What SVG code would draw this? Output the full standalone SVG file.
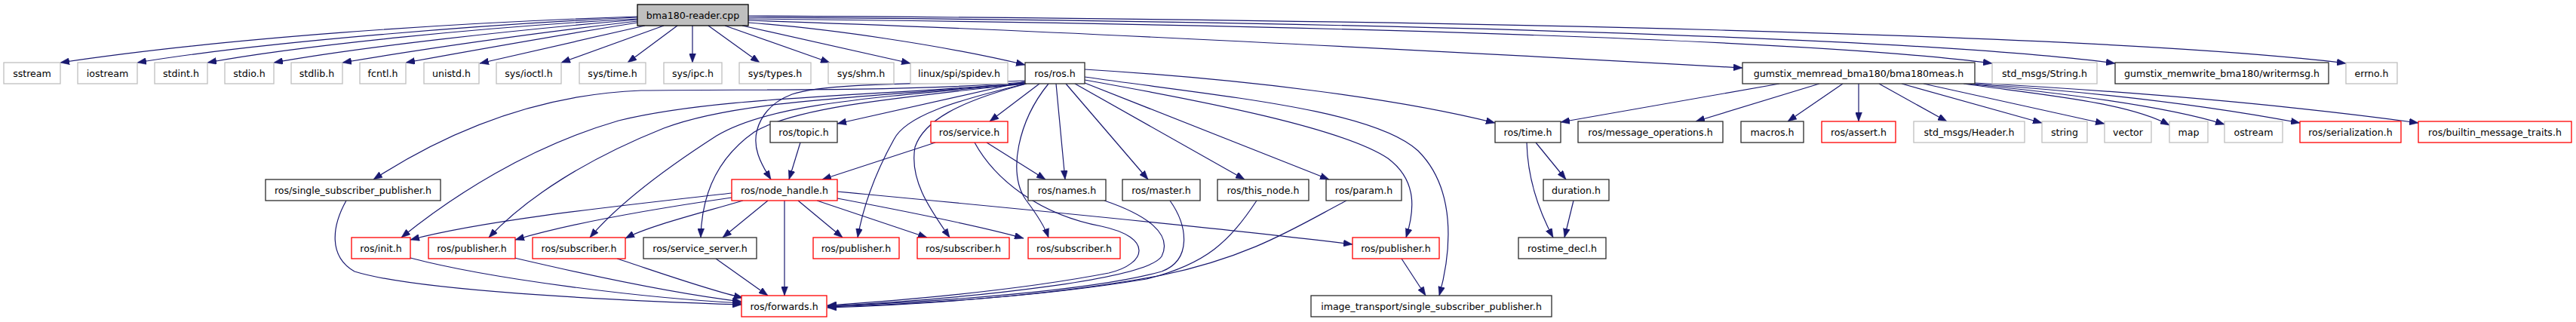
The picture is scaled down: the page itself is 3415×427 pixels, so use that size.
<svg xmlns="http://www.w3.org/2000/svg" width="3415" height="427" viewBox="0 0 3415 427">
<style>
text{font-family:"DejaVu Sans","Liberation Sans",sans-serif;font-size:12.6px;text-anchor:middle;fill:#000}
.g rect{fill:#fff;stroke:#bfbfbf;stroke-width:1.3}
.b rect{fill:#fff;stroke:#2b2b2b;stroke-width:1.3}
.r rect{fill:#fff;stroke:#ff0000;stroke-width:1.3}
.root rect{fill:#bfbfbf;stroke:#000;stroke-width:1.3}
#edges path{fill:none;stroke:#191970;stroke-width:1.2;marker-end:url(#a)}
</style>
<defs>
<marker id="a" markerUnits="userSpaceOnUse" markerWidth="12" markerHeight="9" refX="12" refY="4.5" orient="auto">
<path d="M0,0 L12,4.5 L0,9 z" fill="#191970" stroke="#191970" stroke-width="0.5"/>
</marker>
</defs>
<rect width="3415" height="427" fill="#fff"/>
<g id="edges">
<path d="M845,22 C600,30 300,50 80,83"/>
<path d="M845,23 C650,32 350,55 182,83"/>
<path d="M845,25 C650,35 400,60 275,83"/>
<path d="M845,26 C680,40 480,62 363,83"/>
<path d="M845,28 C700,45 560,65 454,83"/>
<path d="M845,30 C720,50 620,68 538,83"/>
<path d="M855,34 L636,84"/>
<path d="M880,34 L744,83"/>
<path d="M898,34 L832,83"/>
<path d="M918,34 L918,83"/>
<path d="M939,34 L1007,83"/>
<path d="M961,34 L1100,83"/>
<path d="M984,34 L1207,84"/>
<path d="M992,30 C1100,38 1250,60 1359,86"/>
<path d="M992,27 C1400,40 1950,70 2310,90"/>
<path d="M992,25 C1700,32 2400,52 2641,84"/>
<path d="M992,23 C1800,28 2550,50 2804,84"/>
<path d="M992,21 C1900,26 2800,45 3110,84"/>
<path d="M1359,108 L1110,164"/>
<path d="M1378,111 L1312,161"/>
<path d="M1400,111 L1412,238"/>
<path d="M1413,111 L1522,238"/>
<path d="M1425,111 L1650,238"/>
<path d="M1438,110 L1762,238"/>
<path d="M1438,106 C1600,135 1780,170 1840,210 C1880,240 1875,280 1864,315"/>
<path d="M1438,102 C1620,128 1820,145 1880,200 C1930,250 1925,330 1908,392"/>
<path d="M1438,92 C1650,105 1850,130 1982,163"/>
<path d="M1359,107 C1250,112 1100,108 1050,125 C1010,140 995,175 1005,205 C1010,220 1017,230 1022,238"/>
<path d="M1359,109 C1200,122 1000,118 850,120 C720,125 600,170 495,238"/>
<path d="M1359,110 C1150,128 950,128 820,160 C700,195 600,260 532,315"/>
<path d="M1359,110 C1150,130 980,132 880,170 C780,210 700,260 648,315"/>
<path d="M1359,111 C1150,130 1020,138 950,180 C880,225 820,270 782,315"/>
<path d="M1360,111 C1160,132 1050,145 1000,175 C950,210 930,260 929,315"/>
<path d="M1360,111 C1260,135 1200,155 1185,185 C1160,230 1145,270 1137,315"/>
<path d="M1361,111 C1270,135 1225,160 1213,195 C1205,240 1235,280 1259,315"/>
<path d="M1390,111 C1350,160 1335,230 1360,265 C1375,285 1385,300 1390,315"/>
<path d="M970,256 C850,270 650,290 544,318"/>
<path d="M970,262 C880,275 760,295 683,318"/>
<path d="M985,266 C920,285 860,300 829,316"/>
<path d="M1018,266 L958,315"/>
<path d="M1040,266 L1040,392"/>
<path d="M1058,266 L1117,315"/>
<path d="M1083,266 L1229,315"/>
<path d="M1110,263 C1200,280 1300,300 1357,316"/>
<path d="M1110,254 C1300,272 1600,300 1793,324"/>
<path d="M1061,189 L1046,238"/>
<path d="M1240,189 L1090,238"/>
<path d="M1308,189 L1386,238"/>
<path d="M1292,189 C1320,240 1380,285 1460,300 C1530,315 1520,350 1470,362 C1350,385 1200,398 1097,405"/>
<path d="M1464,266 C1520,285 1555,310 1540,340 C1520,370 1300,395 1097,406"/>
<path d="M1551,266 C1575,300 1580,345 1540,360 C1450,385 1250,400 1097,406"/>
<path d="M1666,266 C1630,320 1600,350 1520,370 C1400,390 1250,402 1097,407"/>
<path d="M1785,266 C1720,300 1660,340 1540,365 C1420,388 1250,403 1097,408"/>
<path d="M459,266 C440,300 435,340 470,360 C550,385 800,398 983,404"/>
<path d="M544,342 C650,370 850,395 983,402"/>
<path d="M682,342 C780,365 900,390 983,400"/>
<path d="M818,343 C870,360 940,385 985,395"/>
<path d="M949,343 L1018,392"/>
<path d="M1858,343 L1890,392"/>
<path d="M2036,189 L2076,238"/>
<path d="M2024,189 C2025,230 2035,270 2059,315"/>
<path d="M2086,266 L2074,315"/>
<path d="M2359,111 L2069,162"/>
<path d="M2412,111 L2248,161"/>
<path d="M2443,111 L2370,161"/>
<path d="M2464,111 L2464,161"/>
<path d="M2491,111 L2581,161"/>
<path d="M2521,111 L2707,163"/>
<path d="M2550,111 L2790,164"/>
<path d="M2603,111 C2700,125 2820,135 2876,166"/>
<path d="M2607,111 C2720,122 2870,140 2949,165"/>
<path d="M2612,111 C2750,120 2900,135 3049,163"/>
<path d="M2618,110 C2800,120 3000,135 3206,163"/>
</g>
<g id="n0" class="root"><rect x="845" y="6" width="147" height="28"/><text x="918.5" y="24.6">bma180-reader.cpp</text></g>
<g id="n1" class="g"><rect x="5" y="83" width="75" height="28"/><text x="42.5" y="101.6">sstream</text></g>
<g id="n2" class="g"><rect x="103" y="83" width="79" height="28"/><text x="142.5" y="101.6">iostream</text></g>
<g id="n3" class="g"><rect x="205" y="83" width="70" height="28"/><text x="240" y="101.6">stdint.h</text></g>
<g id="n4" class="g"><rect x="298" y="83" width="65" height="28"/><text x="330.5" y="101.6">stdio.h</text></g>
<g id="n5" class="g"><rect x="386" y="83" width="68" height="28"/><text x="420" y="101.6">stdlib.h</text></g>
<g id="n6" class="g"><rect x="477" y="83" width="61" height="28"/><text x="507.5" y="101.6">fcntl.h</text></g>
<g id="n7" class="g"><rect x="562" y="83" width="73" height="28"/><text x="598.5" y="101.6">unistd.h</text></g>
<g id="n8" class="g"><rect x="658" y="83" width="86" height="28"/><text x="701" y="101.6">sys/ioctl.h</text></g>
<g id="n9" class="g"><rect x="768" y="83" width="88" height="28"/><text x="812" y="101.6">sys/time.h</text></g>
<g id="n10" class="g"><rect x="880" y="83" width="77" height="28"/><text x="918.5" y="101.6">sys/ipc.h</text></g>
<g id="n11" class="g"><rect x="980" y="83" width="95" height="28"/><text x="1027.5" y="101.6">sys/types.h</text></g>
<g id="n12" class="g"><rect x="1098" y="83" width="87" height="28"/><text x="1141.5" y="101.6">sys/shm.h</text></g>
<g id="n13" class="g"><rect x="1207" y="83" width="129" height="28"/><text x="1271.5" y="101.6">linux/spi/spidev.h</text></g>
<g id="n14" class="b"><rect x="1359" y="83" width="79" height="28"/><text x="1398.5" y="101.6">ros/ros.h</text></g>
<g id="n15" class="b"><rect x="2310" y="83" width="308" height="28"/><text x="2464" y="101.6">gumstix_memread_bma180/bma180meas.h</text></g>
<g id="n16" class="g"><rect x="2641" y="83" width="139" height="28"/><text x="2710.5" y="101.6">std_msgs/String.h</text></g>
<g id="n17" class="b"><rect x="2804" y="83" width="283" height="28"/><text x="2945.5" y="101.6">gumstix_memwrite_bma180/writermsg.h</text></g>
<g id="n18" class="g"><rect x="3110" y="83" width="68" height="28"/><text x="3144" y="101.6">errno.h</text></g>
<g id="n19" class="b"><rect x="1021" y="161" width="89" height="28"/><text x="1065.5" y="179.6">ros/topic.h</text></g>
<g id="n20" class="r"><rect x="1234" y="161" width="102" height="28"/><text x="1285" y="179.6">ros/service.h</text></g>
<g id="n21" class="b"><rect x="1982" y="161" width="87" height="28"/><text x="2025.5" y="179.6">ros/time.h</text></g>
<g id="n22" class="b"><rect x="2092" y="161" width="192" height="28"/><text x="2188" y="179.6">ros/message_operations.h</text></g>
<g id="n23" class="b"><rect x="2308" y="161" width="83" height="28"/><text x="2349.5" y="179.6">macros.h</text></g>
<g id="n24" class="r"><rect x="2415" y="161" width="98" height="28"/><text x="2464" y="179.6">ros/assert.h</text></g>
<g id="n25" class="g"><rect x="2537" y="161" width="147" height="28"/><text x="2610.5" y="179.6">std_msgs/Header.h</text></g>
<g id="n26" class="g"><rect x="2707" y="161" width="60" height="28"/><text x="2737" y="179.6">string</text></g>
<g id="n27" class="g"><rect x="2790" y="161" width="62" height="28"/><text x="2821" y="179.6">vector</text></g>
<g id="n28" class="g"><rect x="2876" y="161" width="51" height="28"/><text x="2901.5" y="179.6">map</text></g>
<g id="n29" class="g"><rect x="2949" y="161" width="77" height="28"/><text x="2987.5" y="179.6">ostream</text></g>
<g id="n30" class="r"><rect x="3049" y="161" width="134" height="28"/><text x="3116" y="179.6">ros/serialization.h</text></g>
<g id="n31" class="r"><rect x="3206" y="161" width="203" height="28"/><text x="3307.5" y="179.6">ros/builtin_message_traits.h</text></g>
<g id="n32" class="b"><rect x="352" y="238" width="232" height="28"/><text x="468" y="256.6">ros/single_subscriber_publisher.h</text></g>
<g id="n33" class="r"><rect x="970" y="238" width="140" height="28"/><text x="1040" y="256.6">ros/node_handle.h</text></g>
<g id="n34" class="b"><rect x="1363" y="238" width="103" height="28"/><text x="1414.5" y="256.6">ros/names.h</text></g>
<g id="n35" class="b"><rect x="1488" y="238" width="103" height="28"/><text x="1539.5" y="256.6">ros/master.h</text></g>
<g id="n36" class="b"><rect x="1614" y="238" width="121" height="28"/><text x="1674.5" y="256.6">ros/this_node.h</text></g>
<g id="n37" class="b"><rect x="1758" y="238" width="100" height="28"/><text x="1808" y="256.6">ros/param.h</text></g>
<g id="n38" class="b"><rect x="2046" y="238" width="87" height="28"/><text x="2089.5" y="256.6">duration.h</text></g>
<g id="n39" class="r"><rect x="466" y="315" width="78" height="28"/><text x="505" y="333.6">ros/init.h</text></g>
<g id="n40" class="r"><rect x="568" y="315" width="115" height="28"/><text x="625.5" y="333.6">ros/publisher.h</text></g>
<g id="n41" class="r"><rect x="706" y="315" width="123" height="28"/><text x="767.5" y="333.6">ros/subscriber.h</text></g>
<g id="n42" class="b"><rect x="853" y="315" width="150" height="28"/><text x="928" y="333.6">ros/service_server.h</text></g>
<g id="n43" class="r"><rect x="1078" y="315" width="114" height="28"/><text x="1135" y="333.6">ros/publisher.h</text></g>
<g id="n44" class="r"><rect x="1216" y="315" width="122" height="28"/><text x="1277" y="333.6">ros/subscriber.h</text></g>
<g id="n45" class="r"><rect x="1363" y="315" width="122" height="28"/><text x="1424" y="333.6">ros/subscriber.h</text></g>
<g id="n46" class="r"><rect x="1793" y="315" width="115" height="28"/><text x="1850.5" y="333.6">ros/publisher.h</text></g>
<g id="n47" class="b"><rect x="2013" y="315" width="116" height="28"/><text x="2071" y="333.6">rostime_decl.h</text></g>
<g id="n48" class="r"><rect x="983" y="392" width="113" height="28"/><text x="1039.5" y="410.6">ros/forwards.h</text></g>
<g id="n49" class="b"><rect x="1738" y="392" width="319" height="28"/><text x="1897.5" y="410.6">image_transport/single_subscriber_publisher.h</text></g>
</svg>
